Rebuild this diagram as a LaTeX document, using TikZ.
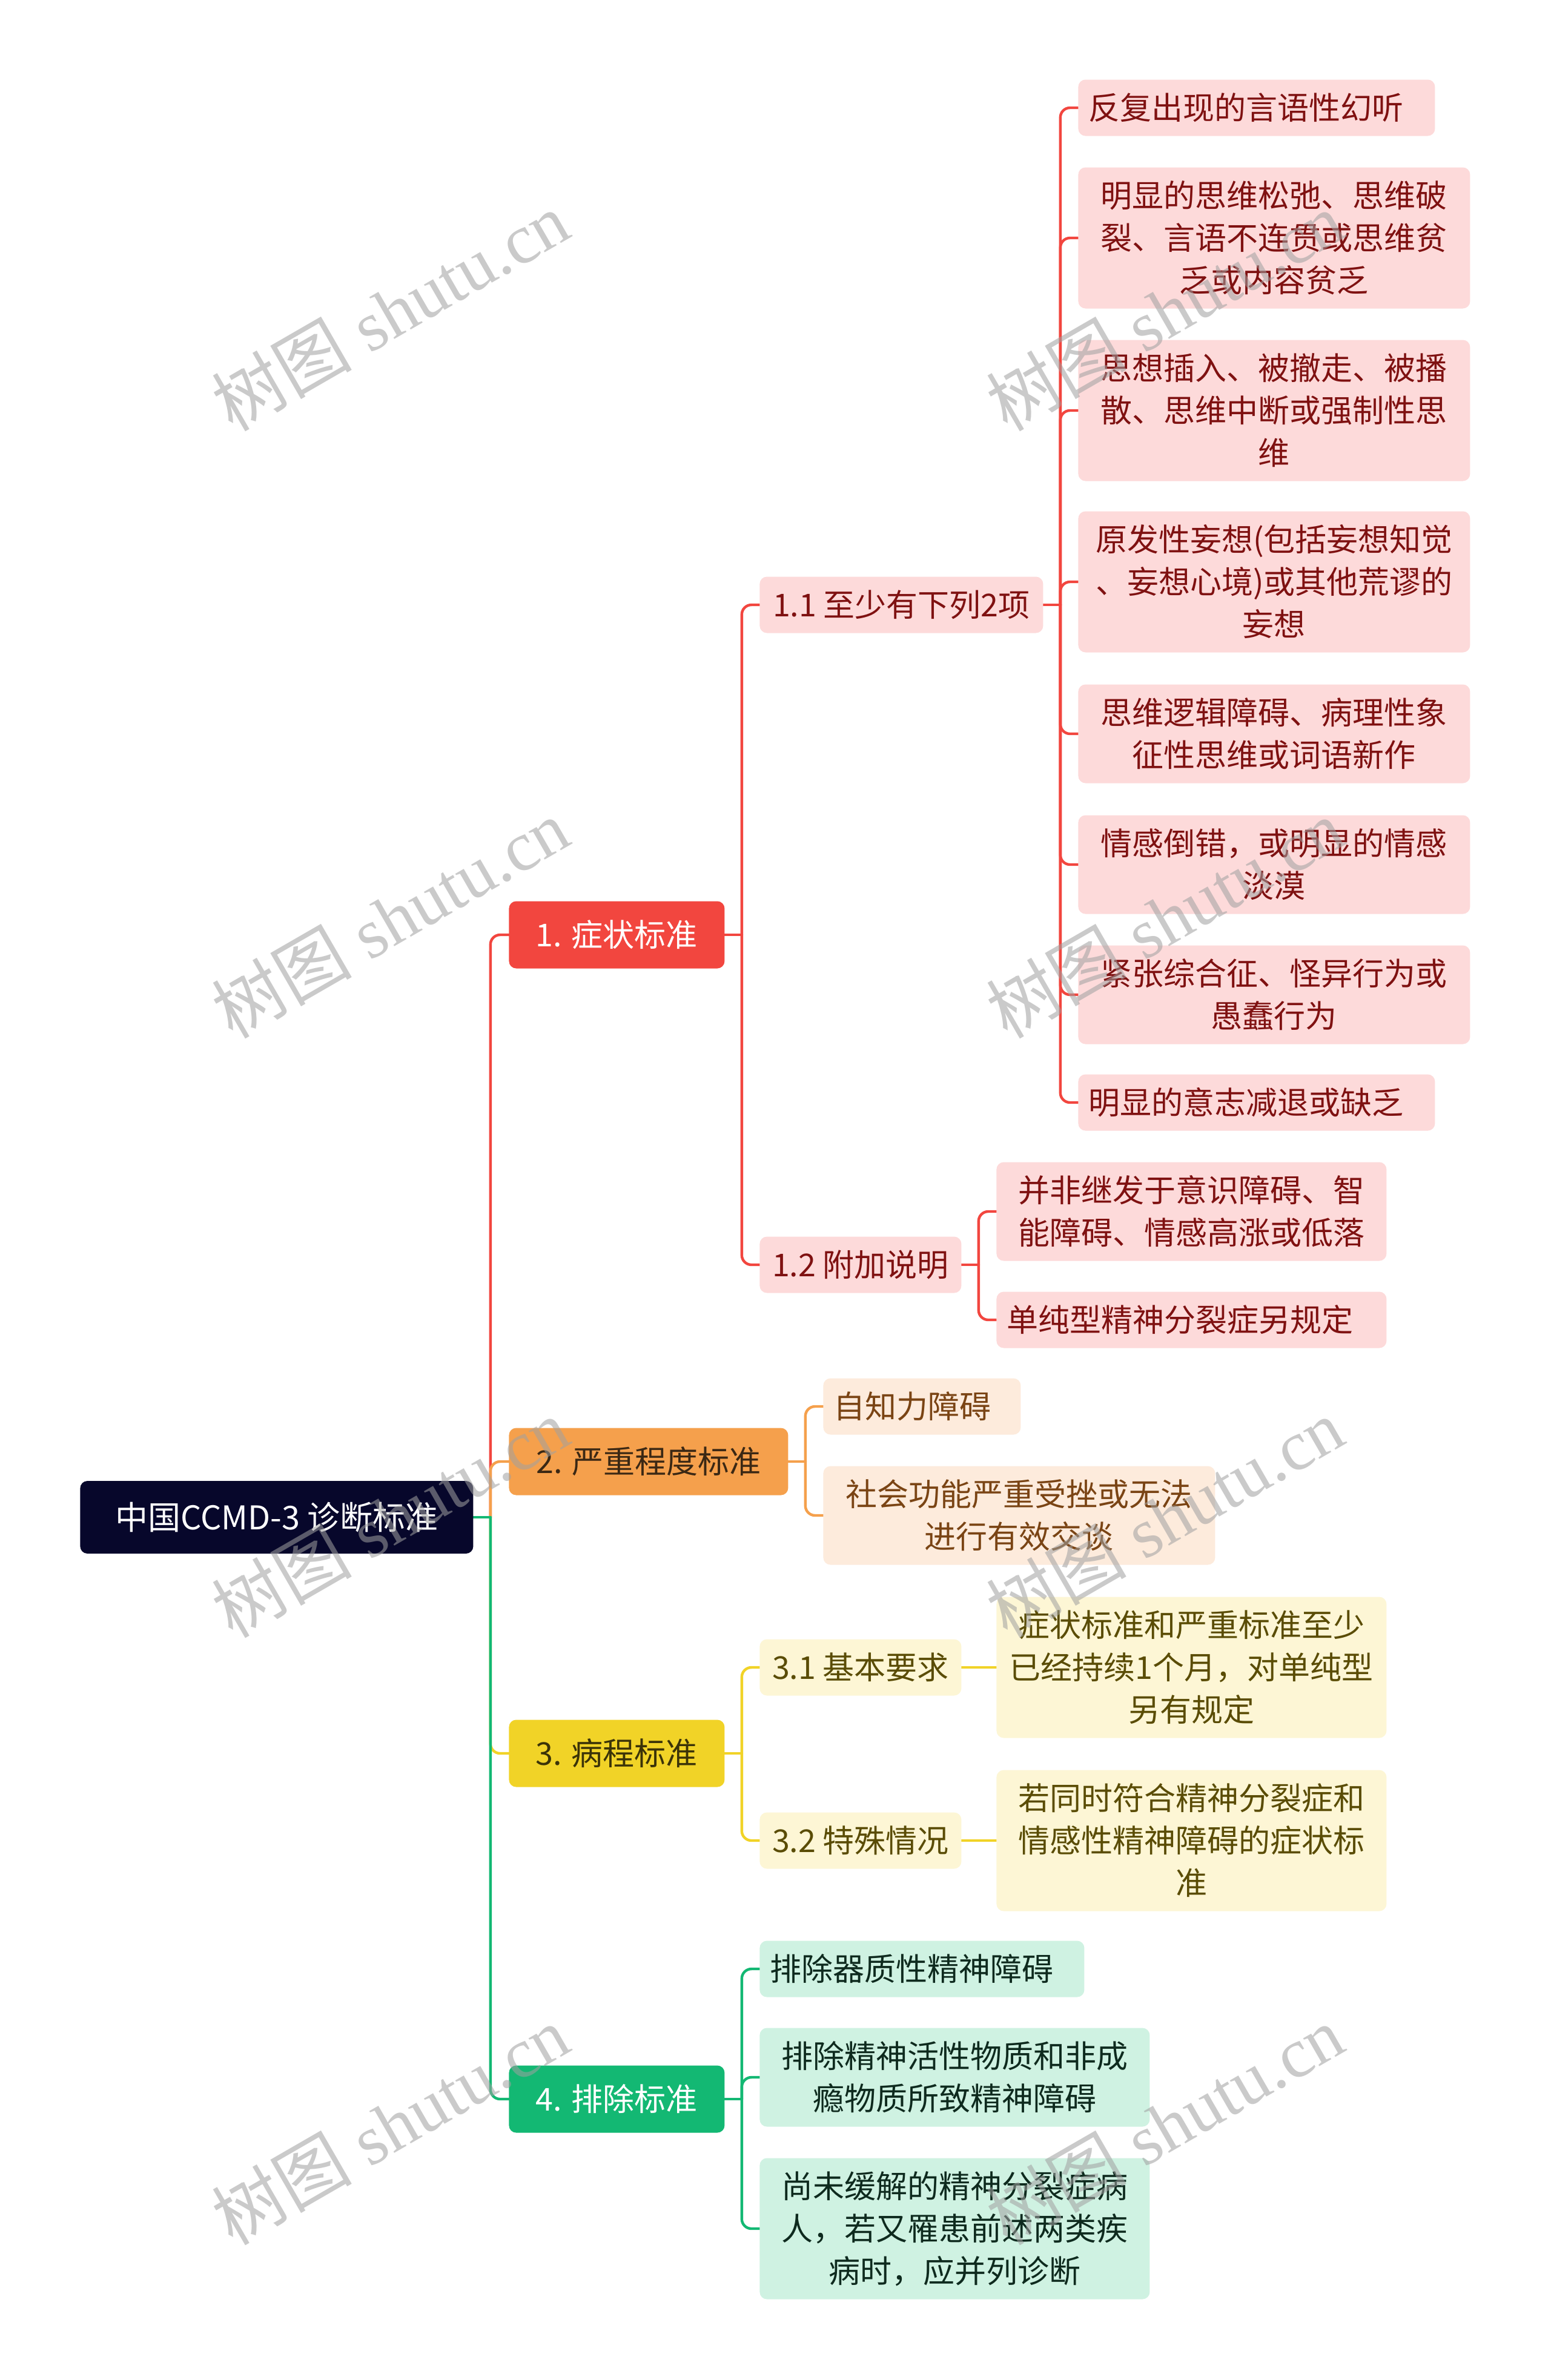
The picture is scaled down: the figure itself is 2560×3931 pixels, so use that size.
\documentclass[tikz,border=0pt]{standalone}
\usepackage{fontspec}
\setmainfont{Noto Sans CJK SC}
\newfontfamily\wmlatin{Liberation Serif}
\usetikzlibrary{backgrounds}
\definecolor{rootc}{HTML}{07072B}
\definecolor{redc}{HTML}{F2463F}
\definecolor{pinkc}{HTML}{FDDADA}
\definecolor{darkred}{HTML}{7F1111}
\definecolor{orangec}{HTML}{F5A04C}
\definecolor{lorange}{HTML}{FDEBDC}
\definecolor{brownd}{HTML}{3B2814}
\definecolor{brownl}{HTML}{7A4414}
\definecolor{yellowc}{HTML}{F1D327}
\definecolor{lyellow}{HTML}{FDF6D5}
\definecolor{olived}{HTML}{3B3308}
\definecolor{olivel}{HTML}{5A4C05}
\definecolor{greenc}{HTML}{13B873}
\definecolor{lgreen}{HTML}{CFF2E2}
\definecolor{gtext}{HTML}{0E2A1E}
\definecolor{wmgray}{HTML}{A0A0A0}
\newcommand\branch[3]{%
  \draw[conn=#3] (#1.east) -- ++(28,0) coordinate (sp);
  \draw[conn=#3, rounded corners=8pt] (sp) |- (#2.west);}
\tikzset{
  base/.style={rectangle, rounded corners=6pt, inner sep=0pt, align=center, anchor=west,
    font=\fontsize{26pt}{35pt}\selectfont},
  rootbox/.style={base, fill=rootc, text=white, font=\fontsize{27pt}{35pt}\selectfont},
  redmain/.style={base, fill=redc, text=white},
  redleaf/.style={base, fill=pinkc, text=darkred},
  orgmain/.style={base, fill=orangec, text=brownd},
  orgleaf/.style={base, fill=lorange, text=brownl},
  ylwmain/.style={base, fill=yellowc, text=olived},
  ylwleaf/.style={base, fill=lyellow, text=olivel},
  grnmain/.style={base, fill=greenc, text=white},
  grnleaf/.style={base, fill=lgreen, text=gtext},
  conn/.style={draw=#1, line width=2.2pt, line cap=round},
  wm/.style={rotate=30, text=wmgray, opacity=0.55, inner sep=0pt,
    font=\wmlatin\fontsize{58pt}{58pt}\selectfont},
  sz/.style n args={2}{minimum width=#1, minimum height=#2},
  lsz/.style n args={2}{text width=#1, inner xsep=8.5pt, align=left, minimum height=#2}
}
\begin{document}
\begin{tikzpicture}[x=0.5pt,y=-0.5pt]
\useasboundingbox (0,0) rectangle (2560,3931);
\begin{scope}[on background layer]
\fill[white] (0,0) rectangle (2560,3931);
\end{scope}
% root and main branches
\node[rootbox, sz={324.5pt}{60pt}] (root) at (132,2506) {中国CCMD-3 诊断标准};
\node[redmain, sz={178pt}{55.5pt}] (n1) at (840,1544) {1. 症状标准};
\node[orgmain, sz={230.5pt}{55.5pt}] (n2) at (840,2414) {2. 严重程度标准};
\node[ylwmain, sz={178pt}{55.5pt}] (n3) at (840,2896) {3. 病程标准};
\node[grnmain, sz={178pt}{55.5pt}] (n4) at (840,3467) {4. 排除标准};
% branch 1
\node[redleaf, sz={234pt}{46.5pt}] (n11) at (1254,999) {1.1 至少有下列2项};
\node[redleaf, sz={166.5pt}{46.5pt}] (n12) at (1254,2089) {1.2 附加说明};
\node[redleaf, lsz={277.5pt}{46.5pt}] (c1) at (1780,178) {反复出现的言语性幻听};
\node[redleaf, sz={323.5pt}{116.5pt}] (c2) at (1780,393) {明显的思维松弛、思维破\\裂、言语不连贯或思维贫\\乏或内容贫乏};
\node[redleaf, sz={323.5pt}{116.5pt}] (c3) at (1780,678) {思想插入、被撤走、被播\\散、思维中断或强制性思\\维};
\node[redleaf, sz={323.5pt}{116.5pt}] (c4) at (1780,961) {原发性妄想(包括妄想知觉\\、妄想心境)或其他荒谬的\\妄想};
\node[redleaf, sz={323.5pt}{81.5pt}] (c5) at (1780,1212) {思维逻辑障碍、病理性象\\征性思维或词语新作};
\node[redleaf, sz={323.5pt}{81.5pt}] (c6) at (1780,1428) {情感倒错，或明显的情感\\淡漠};
\node[redleaf, sz={323.5pt}{81.5pt}] (c7) at (1780,1643) {紧张综合征、怪异行为或\\愚蠢行为};
\node[redleaf, lsz={277.5pt}{46.5pt}] (c8) at (1780,1821) {明显的意志减退或缺乏};
\node[redleaf, sz={322pt}{81.5pt}] (d1) at (1645,2001) {并非继发于意识障碍、智\\能障碍、情感高涨或低落};
\node[redleaf, lsz={305pt}{46.5pt}] (d2) at (1645,2180) {单纯型精神分裂症另规定};
% branch 2
\node[orgleaf, lsz={146pt}{46.5pt}] (e1) at (1359,2323) {自知力障碍};
\node[orgleaf, sz={323.5pt}{81.5pt}] (e2) at (1359,2503) {社会功能严重受挫或无法\\进行有效交谈};
% branch 3
\node[ylwleaf, sz={166.5pt}{46.5pt}] (f1) at (1254,2754) {3.1 基本要求};
\node[ylwleaf, sz={166.5pt}{46.5pt}] (f2) at (1254,3040) {3.2 特殊情况};
\node[ylwleaf, sz={322pt}{116.5pt}] (g1) at (1645,2754) {症状标准和严重标准至少\\已经持续1个月，对单纯型\\另有规定};
\node[ylwleaf, sz={322pt}{116.5pt}] (g2) at (1645,3040) {若同时符合精神分裂症和\\情感性精神障碍的症状标\\准};
% branch 4
\node[grnleaf, lsz={251pt}{46.5pt}] (h1) at (1254,3252) {排除器质性精神障碍};
\node[grnleaf, sz={322pt}{81.5pt}] (h2) at (1254,3431) {排除精神活性物质和非成\\瘾物质所致精神障碍};
\node[grnleaf, sz={322pt}{116.5pt}] (h3) at (1254,3681) {尚未缓解的精神分裂症病\\人，若又罹患前述两类疾\\病时，应并列诊断};
% connectors
\begin{scope}[on background layer]
\branch{root}{n1}{redc}
\branch{root}{n2}{orangec}
\branch{root}{n3}{yellowc}
\branch{root}{n4}{greenc}
\branch{n1}{n11}{redc}
\branch{n1}{n12}{redc}
\branch{n11}{c1}{redc}
\branch{n11}{c2}{redc}
\branch{n11}{c3}{redc}
\branch{n11}{c4}{redc}
\branch{n11}{c5}{redc}
\branch{n11}{c6}{redc}
\branch{n11}{c7}{redc}
\branch{n11}{c8}{redc}
\branch{n12}{d1}{redc}
\branch{n12}{d2}{redc}
\branch{n2}{e1}{orangec}
\branch{n2}{e2}{orangec}
\branch{n3}{f1}{yellowc}
\branch{n3}{f2}{yellowc}
\draw[conn=yellowc] (f1.east) -- (g1.west);
\draw[conn=yellowc] (f2.east) -- (g2.west);
\branch{n4}{h1}{greenc}
\branch{n4}{h2}{greenc}
\branch{n4}{h3}{greenc}
\end{scope}
% watermarks
\node[wm] (w1) at (644,514) {{\rmfamily 树图} shutu.cn};
\node[wm] (w2) at (1923,514) {{\rmfamily 树图} shutu.cn};
\node[wm] (w3) at (644,1517) {{\rmfamily 树图} shutu.cn};
\node[wm] (w4) at (1923,1517) {{\rmfamily 树图} shutu.cn};
\node[wm] (w5) at (644,2507) {{\rmfamily 树图} shutu.cn};
\node[wm] (w6) at (1923,2507) {{\rmfamily 树图} shutu.cn};
\node[wm] (w7) at (644,3510) {{\rmfamily 树图} shutu.cn};
\node[wm] (w8) at (1923,3510) {{\rmfamily 树图} shutu.cn};
\end{tikzpicture}
\end{document}
